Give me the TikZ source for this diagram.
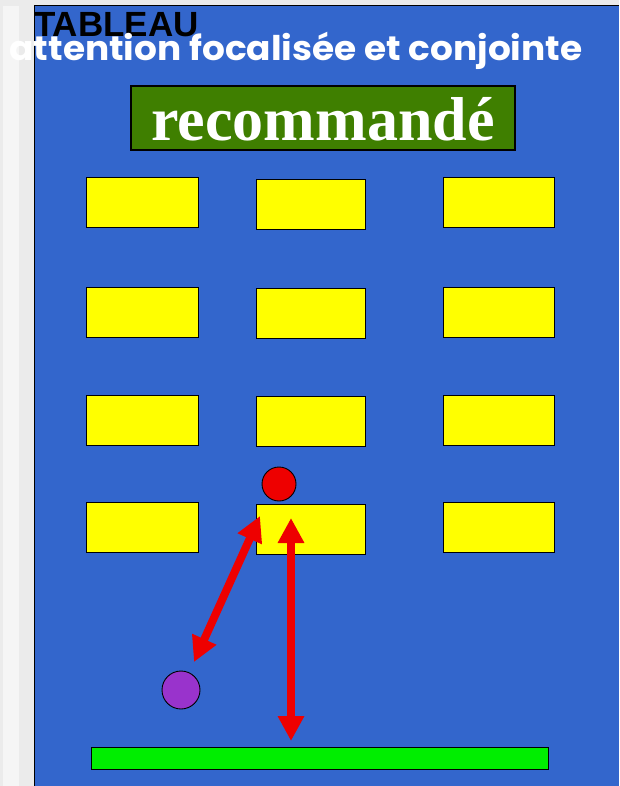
\documentclass[tikz,border=0pt]{standalone}
\usepackage{fontspec}
\setmainfont{Liberation Serif}
\newfontfamily\titlefont{Poppins}
\newfontfamily\tabfont{Liberation Sans}
\usetikzlibrary{arrows.meta}
\definecolor{panel}{HTML}{3366CC}
\definecolor{recgreen}{HTML}{3F7F00}
\definecolor{barred}{HTML}{EE0000}
\definecolor{barpurple}{HTML}{9933CC}
\definecolor{bargreen}{HTML}{00EE00}
\definecolor{boxyellow}{HTML}{FFFF00}
\tikzset{
  ybox/.style={draw=black, fill=boxyellow, line width=0.9pt, minimum height=50pt, inner sep=0pt},
  redarrow/.style={draw=barred, line width=8pt, {Triangle[length=25pt,width=25pt]}-{Triangle[length=25pt,width=25pt]}},
  ball/.style={circle, draw=black, line width=0.9pt, inner sep=0pt}
}
\begin{document}
\begin{tikzpicture}[x=1pt,y=-1pt]
\useasboundingbox (0,0) rectangle (619,786);
\fill[black!8] (0,0) rectangle (619,786);
\fill[black!4] (3,6) rectangle (19,786);
\fill[panel] (34,6) rectangle (619,786);
\draw[line width=1pt] (34,786) -- (34,6) -- (619,6);

% titles
\node[anchor=base west, inner sep=0pt, font=\tabfont\bfseries\fontsize{35}{35}\selectfont] (tab) at (34,37) {TABLEAU};
\node[anchor=base, inner sep=0pt, text=white, font=\titlefont\fontsize{34}{34}\selectfont] (att) at (296,61) {\resizebox{573pt}{\height}{\textbf{attention focalisée et conjointe}}};
\node[draw=black, line width=1.2pt, fill=recgreen, minimum width=384pt, minimum height=64pt, inner sep=0pt] (rec) at (323,118) {};
\node[anchor=base, inner sep=0pt, text=white, font=\bfseries\fontsize{62}{62}\selectfont] (rectext) at (rec.center |- 0,141) {recommandé};

% yellow boxes
\foreach \r/\y in {1/202.5, 2/312, 3/420, 4/527.5}{
  \node[ybox, minimum width=112pt] (b\r1) at (142,\y) {};
  \node[ybox, minimum width=109pt] (b\r2) at (310.5,\y+1.5) {};
  \node[ybox, minimum width=111pt] (b\r3) at (498.5,\y) {};
}

% circles and bar
\node[ball, fill=barred, minimum size=34pt] (redball) at (279,484) {};
\node[ball, fill=barpurple, minimum size=38pt] (purpleball) at (181,690) {};
\node[draw=black, line width=1pt, fill=bargreen, minimum width=457pt, minimum height=22pt, inner sep=0pt] (bar) at (319.5,758) {};

% arrows
\coordinate (d1) at (260,516);
\coordinate (d2) at (194,662);
\coordinate (v1) at (291,518);
\coordinate (v2) at (291,741);
\draw[redarrow] (d1) -- (d2);
\draw[redarrow] (v1) -- (v2);
\end{tikzpicture}
\end{document}
